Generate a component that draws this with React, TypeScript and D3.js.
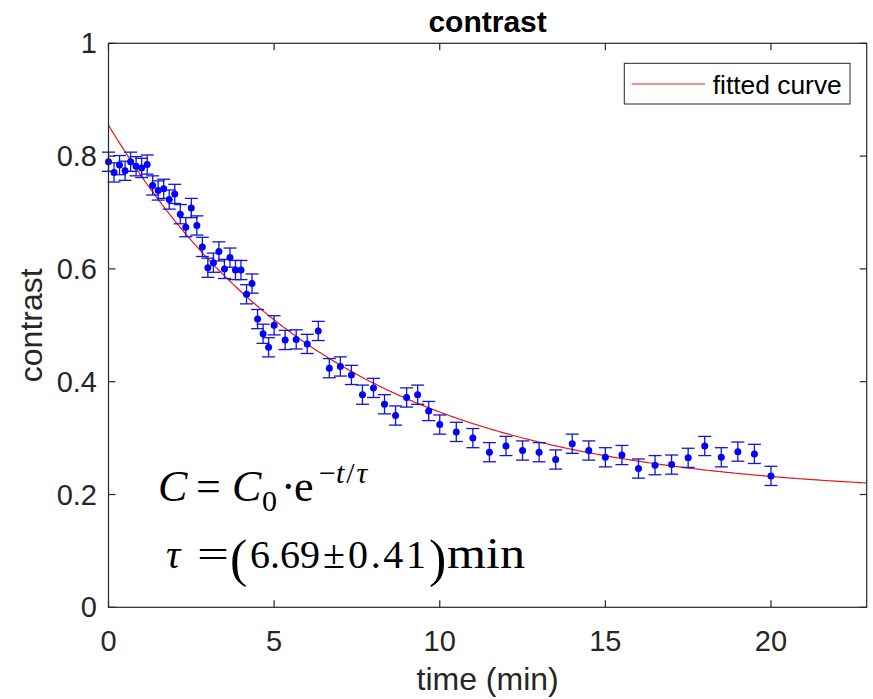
import React from "react";
import * as d3 from "d3";

// ---- data ----
const timeMin: number[] = [
  0, 0.167, 0.333, 0.5, 0.667, 0.833, 1.0, 1.167, 1.333, 1.5, 1.667, 1.833, 2.0, 2.167, 2.333, 2.5,
  2.667, 2.833, 3.0, 3.167, 3.333, 3.5, 3.667, 3.833, 4.0, 4.167, 4.333, 4.5, 4.667, 4.833, 5.0,
  5.333, 5.667, 6.0, 6.333, 6.667, 7.0, 7.333, 7.667, 8.0, 8.333, 8.667, 9.0, 9.333, 9.667, 10.0,
  10.5, 11.0, 11.5, 12.0, 12.5, 13.0, 13.5, 14.0, 14.5, 15.0, 15.5, 16.0, 16.5, 17.0, 17.5, 18.0,
  18.5, 19.0, 19.5, 20.0,
];
const contrastValues: number[] = [
  0.79, 0.771, 0.784, 0.774, 0.79, 0.782, 0.779, 0.785, 0.748, 0.739, 0.742, 0.723, 0.733, 0.697, 0.674, 0.708,
  0.677, 0.639, 0.602, 0.611, 0.631, 0.6, 0.62, 0.598, 0.598, 0.555, 0.574, 0.511, 0.485, 0.461, 0.5,
  0.474, 0.475, 0.467, 0.49, 0.424, 0.427, 0.412, 0.377, 0.389, 0.36, 0.34, 0.372, 0.377, 0.348, 0.324,
  0.311, 0.3, 0.275, 0.286, 0.278, 0.275, 0.262, 0.29, 0.278, 0.266, 0.27, 0.246, 0.252, 0.253, 0.265, 0.286,
  0.266, 0.276, 0.272, 0.233,
];
const ERR = 0.017;

// fitted curve parameters: C = A * exp(-t/tau) + B
const FIT_A = 0.656;
const FIT_TAU = 6.69;
const FIT_B = 0.199;

const xTicks: number[] = [0, 5, 10, 15, 20];
const yTicks: number[] = [0, 0.2, 0.4, 0.6, 0.8, 1];
const xDomain: [number, number] = [0, 22.89];
const yDomain: [number, number] = [0, 1];

const W = 873;
const H = 699;
const L = 108.5;
const R = 866.7;
const T = 43.3;
const B = 607.3;

const AX = "#262626";
const SANS = "'Liberation Sans', Arial, sans-serif";
const SERIF = "'Liberation Serif', 'Times New Roman', serif";

export default function App() {
  const x = d3.scaleLinear().domain(xDomain).range([L, R]);
  const y = d3.scaleLinear().domain(yDomain).range([B, T]);

  const fitPts: [number, number][] = d3
    .range(0, 401)
    .map((i) => {
      const t = xDomain[0] + ((xDomain[1] - xDomain[0]) * i) / 400;
      return [t, FIT_A * Math.exp(-t / FIT_TAU) + FIT_B];
    });
  const line = d3
    .line<[number, number]>()
    .x((d) => x(d[0]))
    .y((d) => y(d[1]));

  const tickLen = 7;
  const cap = 6.5;
  const SG = "spacingAndGlyphs";

  return (
    <div style={{ position: "fixed", left: 0, top: 0 }}>
      <svg width={W} height={H} style={{ display: "block", background: "#fff" }}>
        <rect x={0} y={0} width={W} height={H} fill="#fff" />
        <defs>
          <clipPath id="plotclip">
            <rect x={L} y={T} width={R - L} height={B - T} />
          </clipPath>
        </defs>

        {/* fitted curve */}
        <path
          d={line(fitPts) || ""}
          fill="none"
          stroke="#e31a1c"
          strokeWidth={1.2}
          clipPath="url(#plotclip)"
        />

        {/* error bars + points */}
        <g stroke="#1414d8" strokeWidth={1.3}>
          {timeMin.map((t, i) => {
            const cx = x(t);
            const v = contrastValues[i];
            const y1 = y(v + ERR);
            const y2 = y(v - ERR);
            return (
              <g key={i}>
                <line x1={cx} x2={cx} y1={y1} y2={y2} />
                <line x1={cx - cap} x2={cx + cap} y1={y1} y2={y1} />
                <line x1={cx - cap} x2={cx + cap} y1={y2} y2={y2} />
              </g>
            );
          })}
        </g>
        <g fill="#0000ff">
          {timeMin.map((t, i) => (
            <circle key={i} cx={x(t)} cy={y(contrastValues[i])} r={3.5} />
          ))}
        </g>

        {/* axes box */}
        <rect x={L} y={T} width={R - L} height={B - T} fill="none" stroke={AX} strokeWidth={1.2} />
        {xTicks.map((v) => (
          <g key={"xt" + v}>
            <line x1={x(v)} x2={x(v)} y1={B} y2={B - tickLen} stroke={AX} strokeWidth={1.2} />
            <line x1={x(v)} x2={x(v)} y1={T} y2={T + tickLen} stroke={AX} strokeWidth={1.2} />
            <text
              x={x(v)}
              y={651}
              textAnchor="middle"
              fontFamily={SANS}
              fontSize={29}
              fill={AX}
            >
              {v}
            </text>
          </g>
        ))}
        {yTicks.map((v) => (
          <g key={"yt" + v}>
            <line x1={L} x2={L + tickLen} y1={y(v)} y2={y(v)} stroke={AX} strokeWidth={1.2} />
            <line x1={R} x2={R - tickLen} y1={y(v)} y2={y(v)} stroke={AX} strokeWidth={1.2} />
            <text
              x={97}
              y={y(v) + 10}
              textAnchor="end"
              fontFamily={SANS}
              fontSize={29}
              fill={AX}
            >
              {String(v)}
            </text>
          </g>
        ))}

        {/* title & labels */}
        <text x={(L + R) / 2} y={32} textAnchor="middle" fontFamily={SANS} fontSize={30} fontWeight="bold" fill="#000">
          contrast
        </text>
        <text x={(L + R) / 2} y={690} textAnchor="middle" fontFamily={SANS} fontSize={32} fill={AX}>
          time (min)
        </text>
        <text
          transform={`translate(42,${(T + B) / 2}) rotate(-90)`}
          textAnchor="middle"
          fontFamily={SANS}
          fontSize={32}
          fill={AX}
        >
          contrast
        </text>

        {/* legend */}
        <rect x={624.3} y={63.3} width={225.7} height={40.7} fill="#fff" stroke={AX} strokeWidth={1} />
        <line x1={631.7} x2={705} y1={84} y2={84} stroke="#e31a1c" strokeWidth={1.2} />
        <text x={712.7} y={93.5} fontFamily={SANS} fontSize={26.4} fill="#000">
          fitted curve
        </text>

        {/* equation 1 */}
        <g fontFamily={SERIF} fill="#000">
          <text x={158} y={501} fontSize={44} fontStyle="italic">C</text>
          <text x={196} y={501} fontSize={44}>=</text>
          <text x={232} y={501} fontSize={44} fontStyle="italic">C</text>
          <text x={262} y={511} fontSize={30}>0</text>
          <text x={281} y={501} fontSize={44}>·</text>
          <text x={294} y={501} fontSize={44}>e</text>
          <text x={319} y={483} fontSize={30}>
            <tspan>−</tspan>
            <tspan fontStyle="italic">t</tspan>
            <tspan dx={2}>/</tspan>
            <tspan fontStyle="italic" dx={2}>τ</tspan>
          </text>
        </g>

        {/* equation 2 */}
        <g fontFamily={SERIF} fill="#000">
          <text x={166} y={568} fontSize={40} fontStyle="italic">τ</text>
          <text x={197} y={568} fontSize={40} textLength={32} lengthAdjust={SG}>=</text>
          <text x={230} y={576} fontSize={52}>(</text>
          <text x={250} y={568} fontSize={40}>6.69</text>
          <text x={323} y={568} fontSize={40}>±</text>
          <text x={348} y={568} fontSize={40} textLength={78} lengthAdjust="spacing">0.41</text>
          <text x={429} y={576} fontSize={52}>)</text>
          <text x={447} y={568} fontSize={44} textLength={78} lengthAdjust={SG}>min</text>
        </g>
      </svg>
    </div>
  );
}
